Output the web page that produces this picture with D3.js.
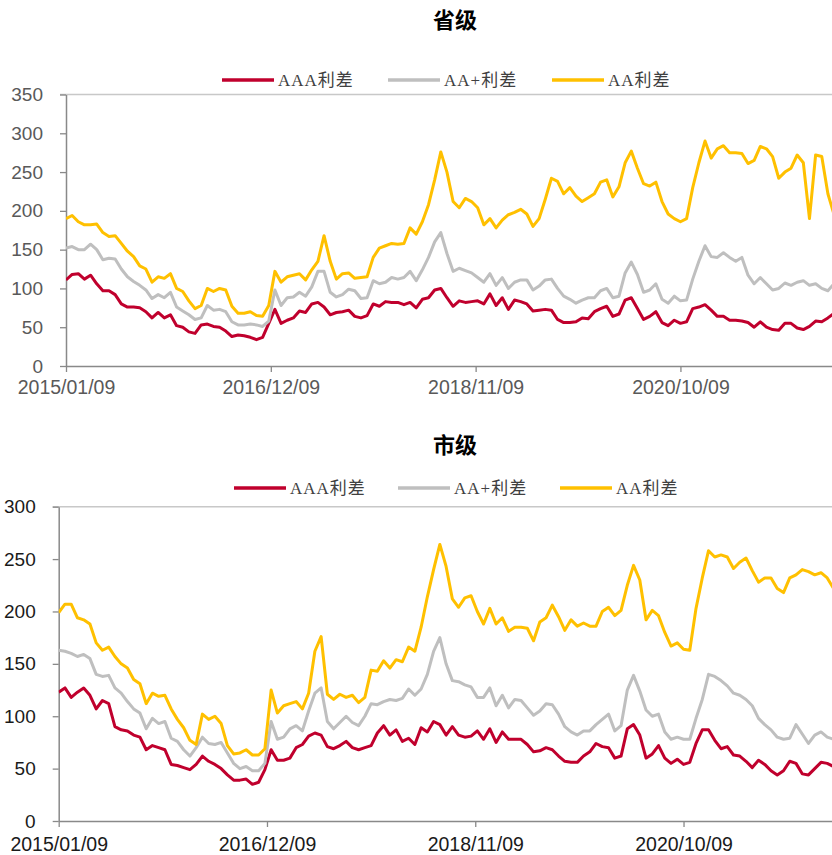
<!DOCTYPE html>
<html><head><meta charset="utf-8">
<script src="https://cdn.jsdelivr.net/npm/d3@7"></script>
<style>
body{margin:0;background:#fff;}
svg{display:block;}
</style></head><body>
<svg id="c" width="832" height="855"></svg>
<script>
// ---------- data ----------
const startDate = "2015/01/09";
const stepWeeks = 3;   // one value every 3 weeks
const xTickLabels = ["2015/01/09","2016/12/09","2018/11/09","2020/10/09"];
const seriesNames = ["AAA利差","AA+利差","AA利差"];
const seriesColors = ["#C0002D","#BFBFBF","#FFC000"];
const provTitle = "省级";
const cityTitle = "市级";
const provYTicks = [0,50,100,150,200,250,300,350];
const cityYTicks = [0,50,100,150,200,250,300];

const provAA = [190,194,186,182,182,183,172,167,168,158,
 148,141,129,125,108,115,113,119,100,96,
 84,74,78,100,96,100,98,77,68,68,
 70,65,64,78,122,108,115,117,119,111,
 124,135,168,135,112,119,120,113,114,115,
 140,152,155,158,157,158,178,170,186,208,
 240,276,250,212,204,216,212,204,182,190,
 178,188,195,198,202,196,180,190,215,242,
 238,222,230,219,212,217,222,237,240,218,
 231,262,277,255,235,232,237,212,196,190,
 186,190,230,262,290,268,280,284,275,275,
 274,261,265,283,280,270,242,250,255,272,
 262,190,272,270,222,195];
const provAAPlus = [152,154,150,150,157,150,137,139,138,125,
 115,109,104,98,87,92,88,95,76,71,
 66,60,62,78,72,73,70,57,53,53,
 54,53,51,58,98,78,88,89,95,90,
 102,122,122,95,89,92,99,97,87,88,
 110,106,108,114,112,114,122,110,124,140,
 160,172,145,122,126,123,120,114,108,119,
 104,114,100,108,111,111,98,103,111,112,
 100,90,86,81,85,88,88,97,100,88,
 90,120,134,118,95,98,106,86,81,90,
 84,85,112,135,155,141,140,146,140,135,
 140,117,106,114,106,98,100,107,104,108,
 110,104,106,100,97,106];
const provAAA = [111,118,119,112,117,106,97,97,92,80,
 76,76,75,70,62,69,62,66,52,50,
 44,42,53,54,51,50,45,38,40,39,
 37,34,37,55,73,55,59,62,71,69,
 80,82,76,66,69,70,72,64,62,65,
 80,77,83,82,82,79,82,75,86,88,
 98,100,88,77,84,82,83,84,80,93,
 78,88,73,85,83,80,71,72,73,72,
 60,56,56,57,62,61,70,74,77,64,
 67,85,88,74,60,64,70,56,52,59,
 55,57,74,76,79,72,64,64,59,59,
 58,56,50,57,50,47,46,55,55,49,
 47,51,58,57,62,68];

const cityAA = [199,207,207,194,192,188,170,163,166,157,
 150,146,135,131,112,122,119,120,107,97,
 89,77,73,102,97,100,93,72,64,65,
 68,63,63,69,125,103,110,112,114,107,
 122,162,176,121,116,121,118,120,113,118,
 144,143,153,146,154,152,166,162,185,214,
 240,264,243,212,204,213,215,200,188,203,
 188,194,181,185,185,184,172,190,194,206,
 195,182,192,186,189,186,186,200,204,196,
 201,225,244,230,192,201,196,180,167,170,
 164,163,203,232,258,252,254,252,241,247,
 251,239,228,232,232,222,218,232,235,240,
 238,235,237,232,222,220];
const cityAAPlus = [163,162,160,157,159,155,140,138,139,127,
 122,114,107,103,88,98,93,95,79,76,
 68,62,70,80,74,73,75,65,55,50,
 52,48,48,55,95,78,80,88,91,86,
 105,122,127,95,88,94,100,94,91,100,
 112,111,114,116,115,117,126,120,126,140,
 162,175,150,134,133,130,128,118,118,127,
 110,120,108,116,115,108,101,105,112,111,
 102,90,85,82,86,86,92,97,102,86,
 91,125,139,124,106,100,102,85,78,80,
 78,78,98,116,140,138,134,129,122,120,
 116,110,98,92,87,80,78,79,92,83,
 74,82,85,80,78,78];
const cityAAA = [123,127,118,123,127,120,107,115,112,90,
 87,86,82,80,68,72,70,68,54,53,
 51,49,54,62,57,54,50,44,39,39,
 40,35,37,49,68,58,58,60,70,73,
 81,84,82,71,69,72,76,70,68,70,
 72,84,91,82,87,76,79,73,89,85,
 95,92,82,90,82,80,81,86,78,88,
 75,85,78,78,78,73,66,67,70,68,
 62,57,56,56,62,66,74,71,70,60,
 62,88,92,82,60,64,72,60,55,59,
 54,56,74,87,87,77,69,71,63,62,
 57,51,58,54,48,44,48,57,55,45,
 44,50,56,55,52,52];

// ---------- drawing ----------
const parse = d3.timeParse("%Y/%m/%d");
const fmt = d3.timeFormat("%Y/%m/%d");
const t0 = parse(startDate);
const dates = provAAA.map((_, i) => d3.timeDay.offset(t0, i * stepWeeks * 7));
const tickDates = xTickLabels.map(parse);

const svg = d3.select("#c");

function panel(cfg) {
  const g = svg.append("g");
  const x = d3.scaleTime()
    .domain([t0, d3.timeDay.offset(t0, Math.round(cfg.spanWeeks * 7))])
    .range([cfg.left, cfg.right]);
  const y = d3.scaleLinear().domain([0, cfg.ymax]).range([cfg.bottom, cfg.top]);

  // title
  g.append("text").attr("x", cfg.titleX).attr("y", cfg.titleY)
    .attr("text-anchor", "middle")
    .style("font-family", "'Noto Sans CJK SC', sans-serif")
    .style("font-weight", "bold").style("font-size", "22px")
    .attr("fill", "#000").text(cfg.title);

  // legend
  seriesNames.forEach((name, i) => {
    const lx = cfg.legendX[i];
    g.append("line").attr("x1", lx).attr("x2", lx + 52)
      .attr("y1", cfg.legendY).attr("y2", cfg.legendY)
      .attr("stroke", seriesColors[i]).attr("stroke-width", 3.5);
    g.append("text").attr("x", lx + 56).attr("y", cfg.legendY + 6)
      .style("font-family", "'Liberation Serif', 'Noto Sans CJK SC', serif")
      .style("font-size", "17px").style("letter-spacing", "1px")
      .attr("fill", "#404040").text(name);
  });

  // top border gridline
  g.append("line").attr("x1", cfg.left - 6).attr("x2", cfg.right)
    .attr("y1", y(cfg.ymax)).attr("y2", y(cfg.ymax))
    .attr("stroke", "#C8C8C8").attr("stroke-width", 1.5);

  // y axis
  const ya = g.append("g").attr("transform", `translate(${cfg.left},0)`)
    .call(d3.axisLeft(y).tickValues(cfg.yticks).tickSize(6).tickSizeOuter(0).tickPadding(17));
  ya.select(".domain").attr("stroke", "#898989").attr("stroke-width", 1.5);
  ya.selectAll(".tick line").attr("stroke", "#898989").attr("stroke-width", 1.3);
  ya.selectAll(".tick text")
    .style("font-family", "'Liberation Sans', Arial, sans-serif")
    .style("font-size", "19px").attr("fill", cfg.labelColor);

  // x axis
  const xa = g.append("g").attr("transform", `translate(0,${cfg.bottom})`)
    .call(d3.axisBottom(x).tickValues(tickDates).tickFormat(fmt)
      .tickSize(6).tickSizeOuter(0).tickPadding(cfg.xPad));
  xa.select(".domain").attr("stroke", "#898989").attr("stroke-width", 1.5);
  xa.selectAll(".tick line").attr("stroke", "#898989").attr("stroke-width", 1.3);
  xa.selectAll(".tick text")
    .style("font-family", "'Liberation Sans', Arial, sans-serif")
    .style("font-size", "19.5px").attr("fill", cfg.labelColor);

  // clip
  const cid = "clip" + cfg.id;
  svg.append("clipPath").attr("id", cid).append("rect")
    .attr("x", cfg.left).attr("y", cfg.top - 10)
    .attr("width", cfg.right - cfg.left).attr("height", cfg.bottom - cfg.top + 10);

  const line = d3.line().x((d, i) => x(dates[i])).y(d => y(d));
  const lg = g.append("g").attr("clip-path", `url(#${cid})`);
  cfg.series.forEach((s, i) => {
    lg.append("path").datum(s).attr("d", line)
      .attr("fill", "none").attr("stroke", seriesColors[i])
      .attr("stroke-width", 3).attr("stroke-linejoin", "round");
  });
}

panel({
  id: "p", title: provTitle, titleX: 455, titleY: 28,
  legendY: 80, legendX: [222, 388, 552],
  left: 66, right: 832, top: 94.5, bottom: 366,
  ymax: 350, yticks: provYTicks, spanWeeks: 374,
  labelColor: "#595959", xPad: 8,
  series: [provAAA, provAAPlus, provAA]
});

panel({
  id: "c", title: cityTitle, titleX: 455, titleY: 453,
  legendY: 488, legendX: [234, 398, 560],
  left: 58.7, right: 832, top: 506.7, bottom: 821,
  ymax: 300, yticks: cityYTicks, spanWeeks: 371.3,
  labelColor: "#1a1a1a", xPad: 10,
  series: [cityAAA, cityAAPlus, cityAA]
});
</script>
</body></html>
